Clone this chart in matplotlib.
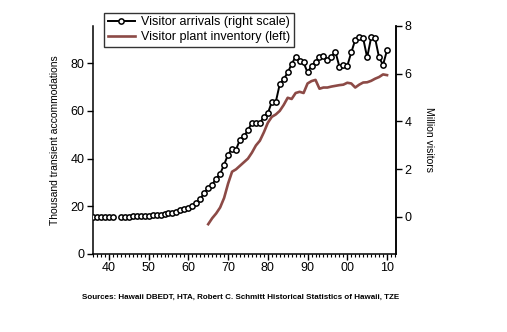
import matplotlib
matplotlib.use("Agg")
import matplotlib.pyplot as plt
import numpy as np

plt.rcParams['font.family'] = ['Liberation Sans', 'DejaVu Sans']

# Visitor arrivals, million (right scale); 1942 missing
arrival_years = list(range(1936, 2011))
arrivals = [0.01, 0.01, 0.01, 0.01, 0.01, 0.01, np.nan,
            0.01, 0.01, 0.01, 0.02, 0.02, 0.03, 0.03, 0.05, 0.06, 0.07,
            0.09, 0.11, 0.14, 0.17, 0.22, 0.28, 0.32, 0.37, 0.47, 0.58,
            0.75, 1.00, 1.21, 1.35, 1.60, 1.80, 2.19, 2.61, 2.85, 2.82,
            3.24, 3.38, 3.63, 3.95, 3.92, 3.92, 4.20, 4.34, 4.81, 4.81,
            5.56, 5.77, 6.05, 6.40, 6.72, 6.54, 6.47, 6.05, 6.33, 6.51,
            6.68, 6.75, 6.58, 6.71, 6.93, 6.30, 6.37, 6.33, 6.89, 7.42,
            7.52, 7.48, 6.68, 7.52, 7.48, 6.68, 6.37, 6.99]

# Visitor plant inventory, thousand units (left scale)
inventory_years = list(range(1965, 2011))
inventory = [12.5, 15.0, 17.0, 19.5, 23.5, 29.5, 34.5, 35.5, 37.0, 38.5,
             40.0, 42.5, 45.5, 47.5, 51.0, 55.0, 57.5, 58.5, 60.0, 62.5,
             65.5, 65.0, 67.5, 68.0, 67.5, 71.5, 72.5, 73.0, 69.3, 69.8,
             69.8, 70.2, 70.5, 70.8, 71.0, 71.8, 71.5, 69.8, 71.0, 71.9,
             72.0, 72.6, 73.5, 74.2, 75.3, 75.0]

xticks = [1940, 1950, 1960, 1970, 1980, 1990, 2000, 2010]
xtick_labels = ['40', '50', '60', '70', '80', '90', '00', '10']
left_ticks = [0, 20, 40, 60, 80]
right_ticks = [0, 2, 4, 6, 8]

fig = plt.figure(figsize=(5.07, 3.32), dpi=100)
ax = fig.add_axes([0.1834, 0.235, 0.5976, 0.6867])
ax2 = ax.twinx()

inv_line, = ax.plot(inventory_years, inventory, color='#8c4a46', lw=1.9,
                    label='Visitor plant inventory (left)')
arr_line, = ax2.plot(arrival_years, arrivals, color='black', lw=1.4,
                     marker='o', markersize=3.8, markerfacecolor='white',
                     markeredgecolor='black', markeredgewidth=1.1,
                     label='Visitor arrivals (right scale)')

ax.set_xlim(1936, 2012.25)
ax.set_ylim(0, 95.6)
ax2.set_ylim(-1.56, 8.0)

ax.set_xticks(xticks)
ax.set_xticklabels(xtick_labels)
ax.set_xticks(range(1936, 2013), minor=True)
ax.set_yticks(left_ticks)
ax2.set_yticks(right_ticks)

for a in (ax, ax2):
    a.spines['top'].set_visible(False)
    for s in a.spines.values():
        s.set_linewidth(1.1)
ax2.spines['left'].set_visible(False)
ax2.spines['bottom'].set_visible(False)

ax.tick_params(axis='x', which='major', direction='out', length=4, width=1,
               labelsize=9, pad=2)
ax.tick_params(axis='x', which='minor', direction='out', length=2.5, width=0.8)
ax.tick_params(axis='y', direction='out', length=4, width=1, labelsize=9, pad=2)
ax2.tick_params(axis='y', direction='out', length=4, width=1, labelsize=9, pad=2)

ax.set_ylabel('Thousand transient accommodations', fontsize=7.5, labelpad=8)
ax2.set_ylabel('Million visitors', fontsize=7.5, rotation=-90, labelpad=16)

leg = fig.legend(handles=[arr_line, inv_line], loc='upper left',
                 bbox_to_anchor=(0.205, 0.962), fontsize=9, frameon=True,
                 fancybox=False, handlelength=2.2, handletextpad=0.5,
                 borderpad=0.3, labelspacing=0.25, borderaxespad=0)
leg.get_frame().set_edgecolor('black')
leg.get_frame().set_linewidth(1.0)

fig.text(0.162, 0.105, 'Sources: Hawaii DBEDT, HTA, Robert C. Schmitt Historical '
         'Statistics of Hawaii, TZE', fontsize=5.8, fontweight='bold',
         va='center', ha='left')

fig.savefig('out.png', dpi=100)
